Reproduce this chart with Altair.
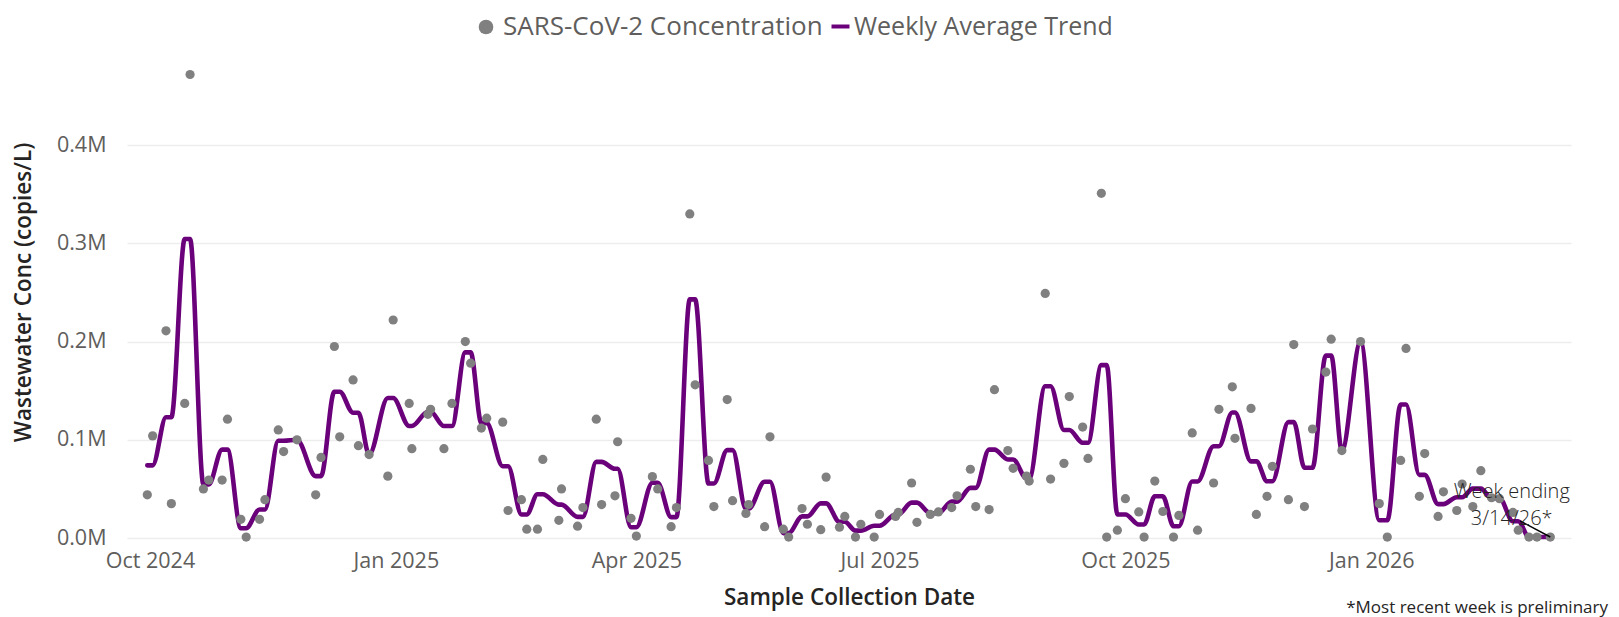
import altair as alt
import pandas as pd

# ---------------- data ----------------
SAMPLE_DATES = [
    "2024-09-30", "2024-10-02", "2024-10-07", "2024-10-09", "2024-10-14", "2024-10-16",
    "2024-10-21", "2024-10-23", "2024-10-28", "2024-10-30", "2024-11-04", "2024-11-06",
    "2024-11-11", "2024-11-13", "2024-11-18", "2024-11-20", "2024-11-25", "2024-12-02",
    "2024-12-04", "2024-12-09", "2024-12-11", "2024-12-16", "2024-12-18", "2024-12-22",
    "2024-12-29", "2024-12-31", "2025-01-06", "2025-01-07", "2025-01-13", "2025-01-14",
    "2025-01-19", "2025-01-22", "2025-01-27", "2025-01-29", "2025-02-02", "2025-02-04",
    "2025-02-10", "2025-02-12", "2025-02-17", "2025-02-19", "2025-02-23", "2025-02-25",
    "2025-03-03", "2025-03-04", "2025-03-10", "2025-03-12", "2025-03-17", "2025-03-19",
    "2025-03-24", "2025-03-25", "2025-03-30", "2025-04-01", "2025-04-07", "2025-04-09",
    "2025-04-14", "2025-04-16", "2025-04-21", "2025-04-23", "2025-04-28", "2025-04-30",
    "2025-05-05", "2025-05-07", "2025-05-12", "2025-05-13", "2025-05-19", "2025-05-21",
    "2025-05-26", "2025-05-28", "2025-06-02", "2025-06-04", "2025-06-09", "2025-06-11",
    "2025-06-16", "2025-06-18", "2025-06-22", "2025-06-24", "2025-06-29", "2025-07-01",
    "2025-07-07", "2025-07-08", "2025-07-13", "2025-07-15", "2025-07-20", "2025-07-23",
    "2025-07-28", "2025-07-30", "2025-08-04", "2025-08-06", "2025-08-11", "2025-08-13",
    "2025-08-18", "2025-08-20", "2025-08-25", "2025-08-26", "2025-09-01", "2025-09-03",
    "2025-09-08", "2025-09-10", "2025-09-15", "2025-09-17", "2025-09-22", "2025-09-24",
    "2025-09-28", "2025-10-01", "2025-10-06", "2025-10-08", "2025-10-12", "2025-10-15",
    "2025-10-19", "2025-10-21", "2025-10-26", "2025-10-28", "2025-11-03", "2025-11-05",
    "2025-11-10", "2025-11-11", "2025-11-17", "2025-11-19", "2025-11-23", "2025-11-25",
    "2025-12-01", "2025-12-03", "2025-12-07", "2025-12-10", "2025-12-15", "2025-12-17",
    "2025-12-21", "2025-12-28", "2026-01-04", "2026-01-07", "2026-01-12", "2026-01-14",
    "2026-01-19", "2026-01-21", "2026-01-26", "2026-01-28", "2026-02-02", "2026-02-04",
    "2026-02-08", "2026-02-11", "2026-02-15", "2026-02-18", "2026-02-23", "2026-02-25",
    "2026-03-01", "2026-03-04", "2026-03-09",
]

# copies/L
CONCENTRATION = [
    44000, 104000, 211000, 35000, 137000, 472000,
    50000, 59000, 59000, 121000, 19000, 1000,
    19000, 39000, 110000, 88000, 100000, 44000,
    82000, 195000, 103000, 161000, 94000, 85000,
    63000, 222000, 137000, 91000, 126000, 131000,
    91000, 137000, 200000, 178000, 112000, 122000,
    118000, 28000, 39000, 9000, 9000, 80000,
    18000, 50000, 12000, 31000, 121000, 34000,
    43000, 98000, 20000, 2000, 62500, 50000,
    11500, 31000, 330000, 156000, 79000, 32000,
    141000, 38000, 25000, 34000, 11500, 103000,
    9000, 1000, 30000, 14000, 8500, 62000,
    11000, 22000, 1000, 14000, 1000, 24000,
    22000, 26000, 56000, 16000, 24000, 26500,
    31000, 43000, 70000, 32000, 29000, 151000,
    89000, 71000, 63000, 58000, 249000, 60000,
    76000, 144000, 113000, 81000, 351000, 1000,
    8000, 40000, 26500, 1000, 58000, 27000,
    1000, 23000, 107000, 8000, 56000, 131000,
    154000, 101500, 132000, 24000, 42500, 73000,
    39000, 197000, 32000, 111000, 169000, 202500,
    89000, 200000, 35000, 1000, 79000, 193000,
    42500, 86000, 22000, 47000, 28000, 55000,
    32000, 68500, 41000, 40000, 26000, 8000,
    1000, 1000, 1000,
]

SERIES = ["SARS-CoV-2 Concentration", "Weekly Average Trend"]
SERIES_COLORS = ["#808080", "#6B007B"]
X_TICKS = ["2024-10-01", "2025-01-01", "2025-04-01", "2025-07-01", "2025-10-01", "2026-01-01"]
Y_TICKS = [0, 100000, 200000, 300000, 400000]
X_DOMAIN = ["2024-09-22 09:42", "2026-03-16 17:46"]
Y_DOMAIN = [0, 500000]
X_TITLE = "Sample Collection Date"
Y_TITLE = "Wastewater Conc (copies/L)"
ANNOTATION_LINES = ["Week ending", "3/14/26*"]
FOOTNOTE = "*Most recent week is preliminary"

# ---------------- table ----------------
df = pd.DataFrame({"date": pd.to_datetime(SAMPLE_DATES), "conc": CONCENTRATION})
# weeks run Sunday..Saturday ("week ending" Saturday)
df["week_end"] = df["date"] + pd.to_timedelta((5 - df["date"].dt.dayofweek) % 7, unit="D")
df["weekly_avg"] = df.groupby("week_end")["conc"].transform("mean")
df["date"] = df["date"].dt.strftime("%Y-%m-%d")
df["week_end"] = df["week_end"].dt.strftime("%Y-%m-%d")
df["sample_series"] = SERIES[0]
df["trend_series"] = SERIES[1]
last = df.tail(1)


def utc(s):
    t = pd.Timestamp(s)
    return alt.DateTime(year=t.year, month=t.month, date=t.day,
                        hours=t.hour, minutes=t.minute, utc=True)


FONT = "Open Sans"
LABEL_COLOR = "#605E5C"
TITLE_COLOR = "#252423"

x_scale = alt.Scale(type="utc", domain=[utc(X_DOMAIN[0]), utc(X_DOMAIN[1])], nice=False)
y_scale = alt.Scale(domain=Y_DOMAIN, nice=False, zero=True)

x_axis = alt.Axis(
    values=[utc(t) for t in X_TICKS],
    labelExpr="utcFormat(datum.value, '%b %Y')",
    grid=False, domain=False, ticks=False,
    labelFontSize=21.5, labelColor=LABEL_COLOR, labelPadding=12, labelFont=FONT,
    titleFontSize=22.5, titleFontWeight=600, titleColor=TITLE_COLOR, titlePadding=15,
    titleFont=FONT, labelFlush=False,
)
y_axis = alt.Axis(
    values=Y_TICKS,
    labelExpr="format(datum.value / 1000000, '.1f') + 'M'",
    domain=False, ticks=False, grid=True, gridColor="#EDEDED", gridWidth=1.5,
    labelFontSize=21.5, labelColor=LABEL_COLOR, labelPadding=21, labelFont=FONT,
    titleFontSize=22.5, titleFontWeight=600, titleColor=TITLE_COLOR, titleFont=FONT,
    titleX=-104, titleY=245, titleBaseline="middle", titleAngle=-90,
)

X = alt.X("date:T", scale=x_scale, axis=x_axis, title=X_TITLE)

points_legend = alt.Legend(
    title=None, orient="none", direction="horizontal",
    legendX=346, legendY=-33,
    labelFontSize=26, labelColor=LABEL_COLOR, labelFont=FONT, labelLimit=0,
    labelOffset=4, symbolSize=215, symbolType="circle", symbolStrokeWidth=0,
    symbolOpacity=1,
)
trend_legend = alt.Legend(
    title=None, orient="none", direction="horizontal",
    legendX=701, legendY=-33,
    labelFontSize=25, labelColor=LABEL_COLOR, labelFont=FONT, labelLimit=0,
    labelOffset=1, symbolSize=324, symbolType="stroke", symbolStrokeWidth=4,
    symbolOpacity=1,
)

base = alt.Chart(df)

trend = base.mark_line(
    interpolate="monotone", strokeWidth=4.6, strokeCap="round", strokeJoin="round"
).encode(
    x=X,
    y=alt.Y("weekly_avg:Q", scale=y_scale, axis=y_axis, title=Y_TITLE),
    stroke=alt.Stroke(
        "trend_series:N",
        scale=alt.Scale(domain=[SERIES[1]], range=[SERIES_COLORS[1]]),
        legend=trend_legend,
    ),
)

points = base.mark_circle(size=85, opacity=1).encode(
    x=X,
    y=alt.Y("conc:Q", scale=y_scale, axis=y_axis, title=Y_TITLE),
    fill=alt.Fill(
        "sample_series:N",
        scale=alt.Scale(domain=[SERIES[0]], range=[SERIES_COLORS[0]]),
        legend=points_legend,
    ),
)

pointer = alt.Chart(last).mark_rule(
    color="black", strokeWidth=1.5, x2Offset=-30, y2Offset=-16
).encode(
    x=X,
    y=alt.Y("conc:Q", scale=y_scale, axis=y_axis, title=Y_TITLE),
    x2="date:T",
    y2="conc:Q",
)

note = alt.Chart(last).mark_text(
    text=ANNOTATION_LINES, align="center", baseline="middle",
    dx=-38.6, dy=-45, fontSize=20, lineHeight=27, color="#252423",
    font=FONT, fontWeight=300,
).encode(
    x=X,
    y=alt.Y("conc:Q", scale=y_scale, axis=y_axis, title=Y_TITLE),
)

chart = alt.layer(trend, points, pointer, note).resolve_scale(
    fill="independent", stroke="independent"
).properties(
    width=1444,
    height=491,
    padding={"left": 119, "top": 39, "right": 40, "bottom": 79},
    autosize=alt.AutoSizeParams(type="none"),
    title=alt.Title(
        FOOTNOTE, orient="bottom", anchor="end", frame="group",
        fontSize=17, fontWeight="normal", color=TITLE_COLOR, font=FONT,
        dx=37, dy=-9, offset=0,
    ),
).configure(font=FONT).configure_view(stroke=None)

chart.save("out.html", embed_options={"renderer": "svg", "actions": False})
